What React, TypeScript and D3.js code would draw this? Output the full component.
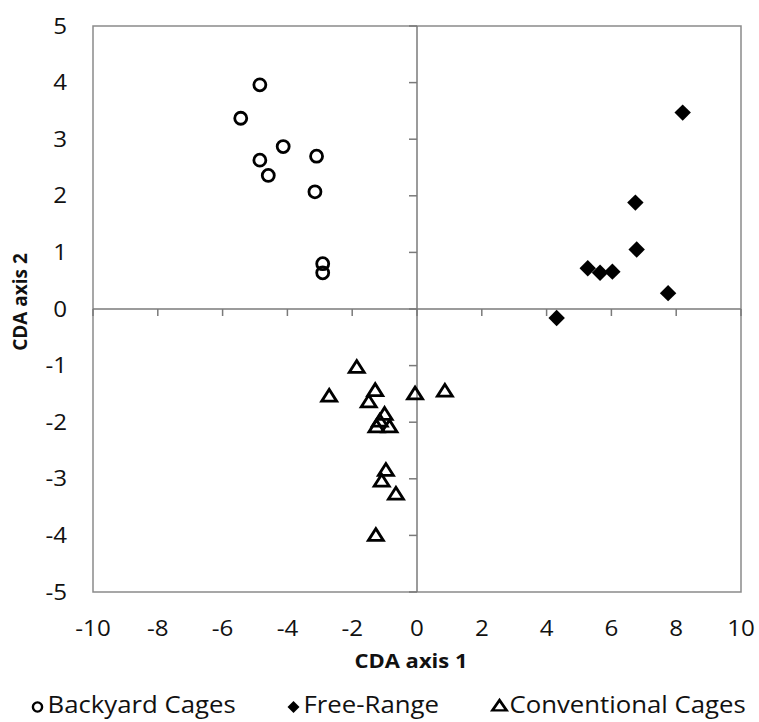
import * as d3 from "d3";
import { useEffect, useRef } from "react";

// CDA scores
const backyardX = [-4.85, -5.44, -4.13, -3.1, -4.85, -4.59, -3.15, -2.91, -2.91];
const backyardY = [3.96, 3.37, 2.87, 2.7, 2.63, 2.36, 2.07, 0.8, 0.64];

const freeRangeX = [8.2, 6.74, 6.78, 5.27, 5.65, 6.03, 7.75, 4.31];
const freeRangeY = [3.47, 1.88, 1.05, 0.72, 0.64, 0.66, 0.28, -0.16];

const conventionalX = [-1.86, -2.71, -1.29, -1.49, -0.06, 0.86, -1.0, -1.15, -1.25, -0.85, -0.96, -1.09, -0.65, -1.27];
const conventionalY = [-1.05, -1.56, -1.46, -1.66, -1.52, -1.47, -1.88, -2.0, -2.1, -2.1, -2.87, -3.06, -3.29, -4.02];

const xTicks = [-10, -8, -6, -4, -2, 0, 2, 4, 6, 8, 10];
const yTicks = [5, 4, 3, 2, 1, 0, -1, -2, -3, -4, -5];

const legendLabels = ["Backyard Cages", "Free-Range", "Conventional Cages"];

const FONT = "'Open Sans', sans-serif";

const App = () => {
  const ref = useRef<SVGSVGElement>(null);

  useEffect(() => {
    const svg = d3.select(ref.current);
    svg.selectAll("*").remove();

    const left = 93;
    const right = 741;
    const top = 26;
    const bottom = 592;

    const x = d3.scaleLinear().domain([-10, 10]).range([left, right]);
    const y = d3.scaleLinear().domain([-5, 5]).range([bottom, top]);

    svg.append("rect").attr("width", 759).attr("height", 722).attr("fill", "#fff");

    // frame
    svg.append("rect")
      .attr("x", left)
      .attr("y", top)
      .attr("width", right - left)
      .attr("height", bottom - top)
      .attr("fill", "none")
      .attr("stroke", "#8a8a8a")
      .attr("stroke-width", 1.5);

    // axes through zero
    const xAxis = svg.append("g").attr("transform", `translate(0,${y(0)})`);
    xAxis.append("line")
      .attr("x1", left).attr("x2", right)
      .attr("stroke", "#7a7a7a").attr("stroke-width", 1.5);
    xAxis.selectAll("line.tick")
      .data(xTicks)
      .enter()
      .append("line")
      .attr("class", "tick")
      .attr("x1", d => x(d)).attr("x2", d => x(d))
      .attr("y1", 0).attr("y2", 7)
      .attr("stroke", "#7a7a7a").attr("stroke-width", 1.5);

    const yAxis = svg.append("g").attr("transform", `translate(${x(0)},0)`);
    yAxis.append("line")
      .attr("y1", top).attr("y2", bottom)
      .attr("stroke", "#7a7a7a").attr("stroke-width", 1.5);
    yAxis.selectAll("line.tick")
      .data(yTicks)
      .enter()
      .append("line")
      .attr("class", "tick")
      .attr("y1", d => y(d)).attr("y2", d => y(d))
      .attr("x1", -8).attr("x2", 0)
      .attr("stroke", "#7a7a7a").attr("stroke-width", 1.5);

    // tick labels sit at the frame edges (source image is a bit wide, hence scaleX)
    svg.selectAll("text.xl")
      .data(xTicks)
      .enter()
      .append("text")
      .attr("class", "xl")
      .attr("transform", d => `translate(${x(d)},636) scale(1.15,1)`)
      .attr("text-anchor", "middle")
      .style("font-family", FONT)
      .style("font-size", "21px")
      .attr("fill", "#111")
      .text(d => d);

    svg.selectAll("text.yl")
      .data(yTicks)
      .enter()
      .append("text")
      .attr("class", "yl")
      .attr("transform", d => `translate(67,${y(d)}) scale(1.15,1)`)
      .attr("dy", "0.36em")
      .attr("text-anchor", "end")
      .style("font-family", FONT)
      .style("font-size", "21px")
      .attr("fill", "#111")
      .text(d => d);

    // axis titles
    svg.append("text")
      .attr("transform", `translate(411,668) scale(1.1,1)`)
      .attr("text-anchor", "middle")
      .style("font-family", FONT)
      .style("font-size", "20px")
      .style("font-weight", "bold")
      .attr("fill", "#111")
      .text("CDA axis 1");

    svg.append("text")
      .attr("transform", `translate(27,302) rotate(-90)`)
      .attr("text-anchor", "middle")
      .style("font-family", FONT)
      .style("font-size", "19px")
      .style("font-weight", "bold")
      .attr("fill", "#111")
      .text("CDA axis 2");

    // markers
    const diamond = d3.symbol().type(d3.symbolSquare).size(135);
    const triangle = d3.symbol().type(d3.symbolTriangle).size(80);

    svg.selectAll("circle.by")
      .data(d3.zip(backyardX, backyardY))
      .enter()
      .append("circle")
      .attr("class", "by")
      .attr("cx", d => x(d[0]))
      .attr("cy", d => y(d[1]))
      .attr("r", 6)
      .attr("fill", "none")
      .attr("stroke", "#000")
      .attr("stroke-width", 2.8);

    svg.selectAll("path.fr")
      .data(d3.zip(freeRangeX, freeRangeY))
      .enter()
      .append("path")
      .attr("class", "fr")
      .attr("d", diamond)
      .attr("transform", d => `translate(${x(d[0])},${y(d[1])}) rotate(45)`)
      .attr("fill", "#000");

    svg.selectAll("path.cc")
      .data(d3.zip(conventionalX, conventionalY))
      .enter()
      .append("path")
      .attr("class", "cc")
      .attr("d", triangle)
      .attr("transform", d => `translate(${x(d[0])},${y(d[1])}) scale(1.1,1)`)
      .attr("fill", "none")
      .attr("stroke", "#000")
      .attr("stroke-width", 2.7)
      .attr("stroke-linejoin", "miter");

    // legend
    const legendX = [37.5, 293.5, 499.5];
    const lg = svg.selectAll("g.lg")
      .data(legendLabels)
      .enter()
      .append("g")
      .attr("class", "lg")
      .attr("transform", (_, i) => `translate(${legendX[i]},707)`);

    lg.each(function (_, i) {
      const g = d3.select(this);
      if (i === 0) {
        g.append("circle").attr("r", 4.6).attr("fill", "none").attr("stroke", "#000").attr("stroke-width", 2.4);
      } else if (i === 1) {
        g.append("path").attr("d", d3.symbol().type(d3.symbolSquare).size(72)).attr("transform", "rotate(45)").attr("fill", "#000");
      } else {
        g.append("path").attr("d", d3.symbol().type(d3.symbolTriangle).size(60)).attr("transform", "scale(1.2,1)").attr("fill", "none").attr("stroke", "#000").attr("stroke-width", 2.4);
      }
    });

    lg.append("text")
      .attr("transform", "translate(10,6) scale(1.12,1)")
      .style("font-family", FONT)
      .style("font-size", "23px")
      .attr("fill", "#111")
      .text(d => d);
  }, []);

  return (
    <svg
      ref={ref}
      width="759"
      height="722"
      style={{ position: "absolute", left: 0, top: 0, display: "block" }}
    ></svg>
  );
};

export default App;
